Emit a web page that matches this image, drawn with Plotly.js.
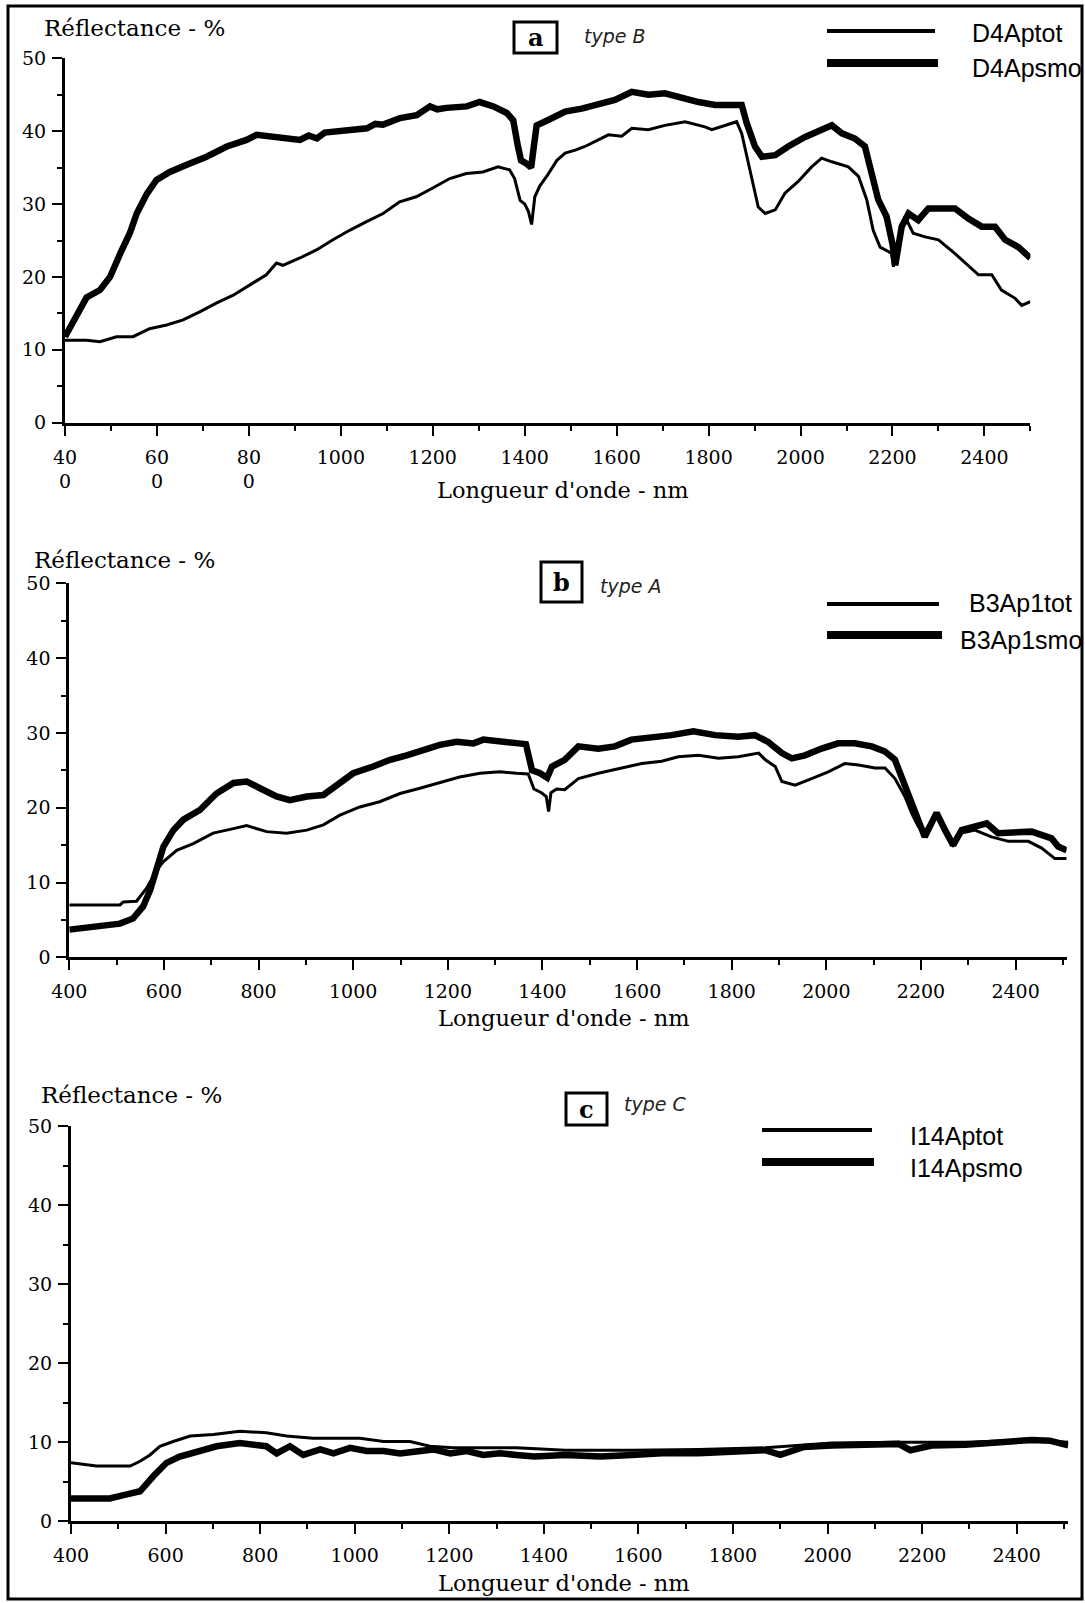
<!DOCTYPE html>
<html>
<head>
<meta charset="utf-8">
<script src="https://cdn.plot.ly/plotly-3.0.1.min.js"></script>
<style>html,body{margin:0;padding:0;background:#fff;}#chart{width:1085px;height:1603px;}</style>
</head>
<body>
<div id="chart"></div>
<script>
// ---------------- DATA ----------------
// Panel a : D4Ap
var aTotNm  = [400,447,476,512,548,584,621,657,693,729,766,802,838,860,874,911,947,983,1019,1056,1092,1128,1164,1200,1237,1273,1309,1342,1367,1378,1390,1400,1408,1415,1422,1433,1450,1470,1488,1510,1531,1560,1582,1611,1633,1669,1705,1749,1792,1807,1836,1861,1872,1883,1897,1908,1923,1945,1966,1995,2024,2046,2068,2104,2126,2144,2158,2173,2191,2198,2202,2213,2227,2245,2271,2300,2336,2358,2387,2416,2437,2466,2481,2500];
var aTotVal = [11.3,11.3,11.1,11.8,11.8,12.9,13.4,14.1,15.2,16.4,17.5,18.9,20.3,21.9,21.6,22.6,23.7,25.1,26.4,27.6,28.7,30.3,31.0,32.2,33.5,34.2,34.4,35.1,34.7,33.5,30.5,30.0,29.0,27.2,31.0,32.5,34.0,36.0,37.0,37.4,37.9,38.8,39.5,39.3,40.4,40.2,40.8,41.3,40.6,40.2,40.8,41.3,39.7,36.5,32.4,29.6,28.7,29.2,31.5,33.1,35.1,36.3,35.8,35.1,33.8,30.6,26.4,24.1,23.5,23.2,21.4,25.1,28.3,26.0,25.5,25.1,23.2,21.9,20.3,20.3,18.2,17.1,16.1,16.6];
var aSmoNm  = [400,412,425,447,476,498,520,541,556,578,599,628,665,708,752,795,817,838,882,911,930,948,965,984,1020,1057,1075,1092,1129,1165,1194,1210,1230,1274,1302,1332,1361,1375,1385,1392,1405,1414,1420,1426,1450,1488,1524,1560,1596,1633,1669,1705,1741,1778,1814,1850,1872,1883,1901,1916,1945,1973,2010,2046,2068,2090,2118,2140,2155,2169,2187,2200,2206,2212,2220,2235,2256,2278,2307,2336,2365,2394,2423,2445,2474,2500];
var aSmoVal = [11.8,13.2,15.0,17.2,18.2,20.0,23.2,26.0,28.7,31.4,33.3,34.4,35.4,36.5,37.9,38.8,39.5,39.3,39.0,38.8,39.4,39.0,39.8,39.9,40.2,40.4,41.0,40.9,41.8,42.2,43.4,43.0,43.2,43.4,44.0,43.4,42.5,41.5,38.0,36.0,35.5,35.0,38.0,40.8,41.5,42.7,43.1,43.8,44.3,45.4,45.0,45.2,44.5,44.0,43.6,43.6,43.6,41.1,37.9,36.5,36.7,37.9,39.2,40.2,40.8,39.7,39.0,37.9,34.2,30.6,28.3,24.5,21.6,24.0,26.9,28.7,27.8,29.4,29.3,29.4,28.0,26.9,26.9,25.1,24.1,22.6];

// Panel b : B3Ap1
var bTotNm  = [400,507,514,542,563,585,599,627,662,704,747,775,817,859,902,937,972,1014,1056,1099,1141,1183,1225,1268,1310,1345,1370,1382,1398,1408,1413,1418,1430,1447,1476,1518,1567,1610,1652,1687,1730,1772,1814,1857,1871,1892,1906,1934,1969,2004,2039,2068,2103,2124,2145,2166,2180,2194,2208,2222,2233,2251,2268,2286,2314,2349,2385,2427,2455,2483,2508];
var bTotVal = [7.0,7.0,7.4,7.5,9.2,11.7,12.8,14.3,15.2,16.6,17.2,17.6,16.8,16.6,17.0,17.7,19.0,20.1,20.8,21.9,22.6,23.3,24.1,24.6,24.8,24.6,24.5,22.5,22.0,21.5,19.5,22.0,22.5,22.4,23.9,24.6,25.3,25.9,26.2,26.8,27.0,26.6,26.8,27.3,26.4,25.5,23.5,23.0,23.9,24.8,25.9,25.7,25.3,25.3,23.9,21.5,19.3,17.5,16.8,18.1,19.3,17.0,15.0,16.6,17.0,16.1,15.5,15.5,14.6,13.2,13.2];
var bSmoNm  = [400,465,507,535,556,571,585,599,620,641,676,711,747,775,803,838,866,902,937,972,1000,1042,1078,1113,1148,1183,1219,1254,1275,1310,1345,1365,1378,1395,1410,1420,1447,1476,1518,1553,1588,1631,1673,1719,1765,1814,1849,1877,1906,1927,1955,1990,2025,2060,2096,2124,2145,2159,2180,2201,2208,2222,2233,2251,2268,2286,2314,2339,2363,2399,2434,2476,2490,2508];
var bSmoVal = [3.7,4.1,4.5,5.2,6.8,9.0,11.7,14.8,17.0,18.4,19.7,21.9,23.3,23.5,22.6,21.5,21.0,21.5,21.7,23.3,24.6,25.5,26.4,27.0,27.7,28.4,28.8,28.6,29.1,28.8,28.6,28.5,25.0,24.6,24.0,25.5,26.4,28.2,27.9,28.2,29.1,29.3,29.7,30.2,29.7,29.5,29.7,28.8,27.3,26.6,27.0,27.9,28.6,28.6,28.2,27.5,26.4,24.1,20.6,17.0,16.1,17.9,19.3,17.0,15.0,17.0,17.5,17.9,16.6,16.6,16.8,15.9,14.8,14.3];

// Panel c : I14Ap
var cTotNm  = [400,454,525,546,567,588,616,652,701,757,813,856,912,955,1011,1061,1117,1159,1208,1272,1342,1445,1586,1727,1868,2009,2150,2291,2432,2509];
var cTotVal = [7.4,7.0,7.0,7.6,8.4,9.5,10.1,10.8,11.0,11.4,11.2,10.8,10.5,10.5,10.5,10.1,10.1,9.5,9.3,9.3,9.3,9.0,9.0,9.1,9.3,9.9,10.0,10.0,10.3,10.0];
var cSmoNm  = [400,482,518,546,574,602,630,673,708,757,813,835,863,891,927,955,990,1025,1061,1096,1131,1166,1202,1237,1272,1307,1342,1380,1445,1520,1586,1650,1727,1800,1868,1900,1950,2009,2080,2150,2175,2220,2291,2360,2432,2470,2509];
var cSmoVal = [2.9,2.9,3.4,3.8,5.7,7.4,8.2,8.9,9.5,9.9,9.5,8.6,9.5,8.4,9.1,8.6,9.3,8.9,8.9,8.6,8.9,9.1,8.6,8.9,8.4,8.6,8.4,8.2,8.4,8.2,8.4,8.6,8.6,8.8,9.0,8.4,9.4,9.6,9.7,9.8,9.0,9.6,9.7,9.9,10.3,10.2,9.6];

// Tick labels
var xTickVals = [400,600,800,1000,1200,1400,1600,1800,2000,2200,2400];
var xTickTextA = ['40<br>0','60<br>0','80<br>0','1000','1200','1400','1600','1800','2000','2200','2400'];
var xTickTextBC = ['400','600','800','1000','1200','1400','1600','1800','2000','2200','2400'];
var xMinorVals = [500,700,900,1100,1300,1500,1700,1900,2100,2300,2500];
var yTickVals = [0,10,20,30,40,50];
var yMinorVals = [5,15,25,35,45];

var seriesNames = ['D4Aptot','D4Apsmo','B3Ap1tot','B3Ap1smo','I14Aptot','I14Apsmo'];
var panelLetters = ['a','b','c'];
var handNotes = ['type B','type A','type C'];
var yTitle = 'Réflectance - %';
var xTitle = "Longueur d'onde - nm";

// ---------------- LAYOUT HELPERS ----------------
var W = 1085, H = 1603;
function px(x){ return x / W; }
function py(y){ return 1 - y / H; }

var serif = 'DejaVu Serif, Liberation Serif, serif';
var sans = 'Liberation Sans, Arial, sans-serif';
var thin = 3, thick = 6.5;

function xax(d0, d1, r1, ticktext, anchor){
  return {
    domain:[px(d0), px(d1)], range:[400, r1], anchor:anchor,
    showline:true, linewidth:3, linecolor:'#000', mirror:false,
    showgrid:false, zeroline:false,
    ticks:'outside', ticklen:10, tickwidth:2, tickcolor:'#000',
    tickmode:'array', tickvals:xTickVals, ticktext:ticktext,
    tickfont:{family:serif, size:19, color:'#000'},
    ticklabelstandoff:5,
    minor:{tickmode:'array', tickvals:xMinorVals, ticks:'outside', ticklen:5, tickwidth:2, tickcolor:'#000'}
  };
}
function yax(bot, top, anchor){
  return {
    domain:[py(bot), py(top)], range:[0,50], anchor:anchor,
    showline:true, linewidth:3, linecolor:'#000', mirror:false,
    showgrid:false, zeroline:false,
    ticks:'outside', ticklen:10, tickwidth:2, tickcolor:'#000',
    tickmode:'array', tickvals:yTickVals, ticktext:yTickVals.map(String),
    tickfont:{family:serif, size:19, color:'#000'},
    ticklabelstandoff:2,
    minor:{tickmode:'array', tickvals:yMinorVals, ticks:'outside', ticklen:5, tickwidth:2, tickcolor:'#000'}
  };
}

var traces = [
  {x:aTotNm, y:aTotVal, xaxis:'x', yaxis:'y', name:seriesNames[0], mode:'lines', line:{color:'#000', width:thin}},
  {x:aSmoNm, y:aSmoVal, xaxis:'x', yaxis:'y', name:seriesNames[1], mode:'lines', line:{color:'#000', width:thick}},
  {x:bTotNm, y:bTotVal, xaxis:'x2', yaxis:'y2', name:seriesNames[2], mode:'lines', line:{color:'#000', width:thin}},
  {x:bSmoNm, y:bSmoVal, xaxis:'x2', yaxis:'y2', name:seriesNames[3], mode:'lines', line:{color:'#000', width:thick}},
  {x:cTotNm, y:cTotVal, xaxis:'x3', yaxis:'y3', name:seriesNames[4], mode:'lines', line:{color:'#000', width:thin}},
  {x:cSmoNm, y:cSmoVal, xaxis:'x3', yaxis:'y3', name:seriesNames[5], mode:'lines', line:{color:'#000', width:thick}}
];

// positions (px) per panel
var P = [
  {yt:{x:42,y:28}, xt:{x:435,y:490}, box:[514,22,557,53], hand:{x:615,y:36},
   leg:[{x0:827,x1:935,y:31,w:4,tx:970,ty:33},{x0:827,x1:938,y:63,w:8,tx:970,ty:68}]},
  {yt:{x:32,y:560}, xt:{x:436,y:1018}, box:[541,562,582,602], hand:{x:630,y:586},
   leg:[{x0:827,x1:939,y:604,w:4,tx:967,ty:603},{x0:827,x1:942,y:635,w:8,tx:958,ty:640}]},
  {yt:{x:39,y:1095}, xt:{x:436,y:1583}, box:[566,1093,607,1125], hand:{x:655,y:1104},
   leg:[{x0:762,x1:872,y:1130,w:4,tx:908,ty:1136},{x0:762,x1:874,y:1162,w:8,tx:908,ty:1168}]}
];

var shapes = [
  {type:'rect', xref:'paper', yref:'paper', x0:px(8), x1:px(1082), y0:py(1599), y1:py(6), line:{color:'#000', width:3}}
];
var annotations = [];
P.forEach(function(p, i){
  annotations.push({xref:'paper', yref:'paper', x:px(p.yt.x), y:py(p.yt.y), xanchor:'left', yanchor:'middle', showarrow:false,
    text:yTitle, font:{family:serif, size:23, color:'#000'}});
  annotations.push({xref:'paper', yref:'paper', x:px(p.xt.x), y:py(p.xt.y), xanchor:'left', yanchor:'middle', showarrow:false,
    text:xTitle, font:{family:serif, size:22.5, color:'#000'}});
  var b = p.box;
  shapes.push({type:'rect', xref:'paper', yref:'paper', x0:px(b[0]), x1:px(b[2]), y0:py(b[3]), y1:py(b[1]), line:{color:'#000', width:3}});
  annotations.push({xref:'paper', yref:'paper', x:px((b[0]+b[2])/2), y:py((b[1]+b[3])/2), xanchor:'center', yanchor:'middle', showarrow:false,
    text:'<b>'+panelLetters[i]+'</b>', font:{family:serif, size:24, color:'#000'}});
  annotations.push({xref:'paper', yref:'paper', x:px(p.hand.x), y:py(p.hand.y), xanchor:'center', yanchor:'middle', showarrow:false,
    text:handNotes[i], font:{family:'DejaVu Sans, sans-serif', size:19, color:'#222', style:'italic', weight:300}});
  p.leg.forEach(function(l, k){
    shapes.push({type:'line', xref:'paper', yref:'paper', x0:px(l.x0), x1:px(l.x1), y0:py(l.y), y1:py(l.y), line:{color:'#000', width:l.w}});
    annotations.push({xref:'paper', yref:'paper', x:px(l.tx), y:py(l.ty), xanchor:'left', yanchor:'middle', showarrow:false,
      text:seriesNames[i*2+k], font:{family:sans, size:25, color:'#000'}});
  });
});

var layout = {
  width:W, height:H, autosize:false,
  margin:{l:0, r:0, t:0, b:0, pad:0},
  paper_bgcolor:'#fff', plot_bgcolor:'#fff',
  showlegend:false,
  xaxis: xax(65, 1030.4, 2500, xTickTextA, 'y'),
  yaxis: yax(422.7, 58.3, 'x'),
  xaxis2: xax(69.3, 1066.7, 2508, xTickTextBC, 'y2'),
  yaxis2: yax(957.3, 583.3, 'x2'),
  xaxis3: xax(71, 1068.3, 2509, xTickTextBC, 'y3'),
  yaxis3: yax(1521.3, 1126.3, 'x3'),
  shapes:shapes,
  annotations:annotations
};

Plotly.newPlot('chart', traces, layout, {displayModeBar:false, staticPlot:true});
</script>
</body>
</html>
